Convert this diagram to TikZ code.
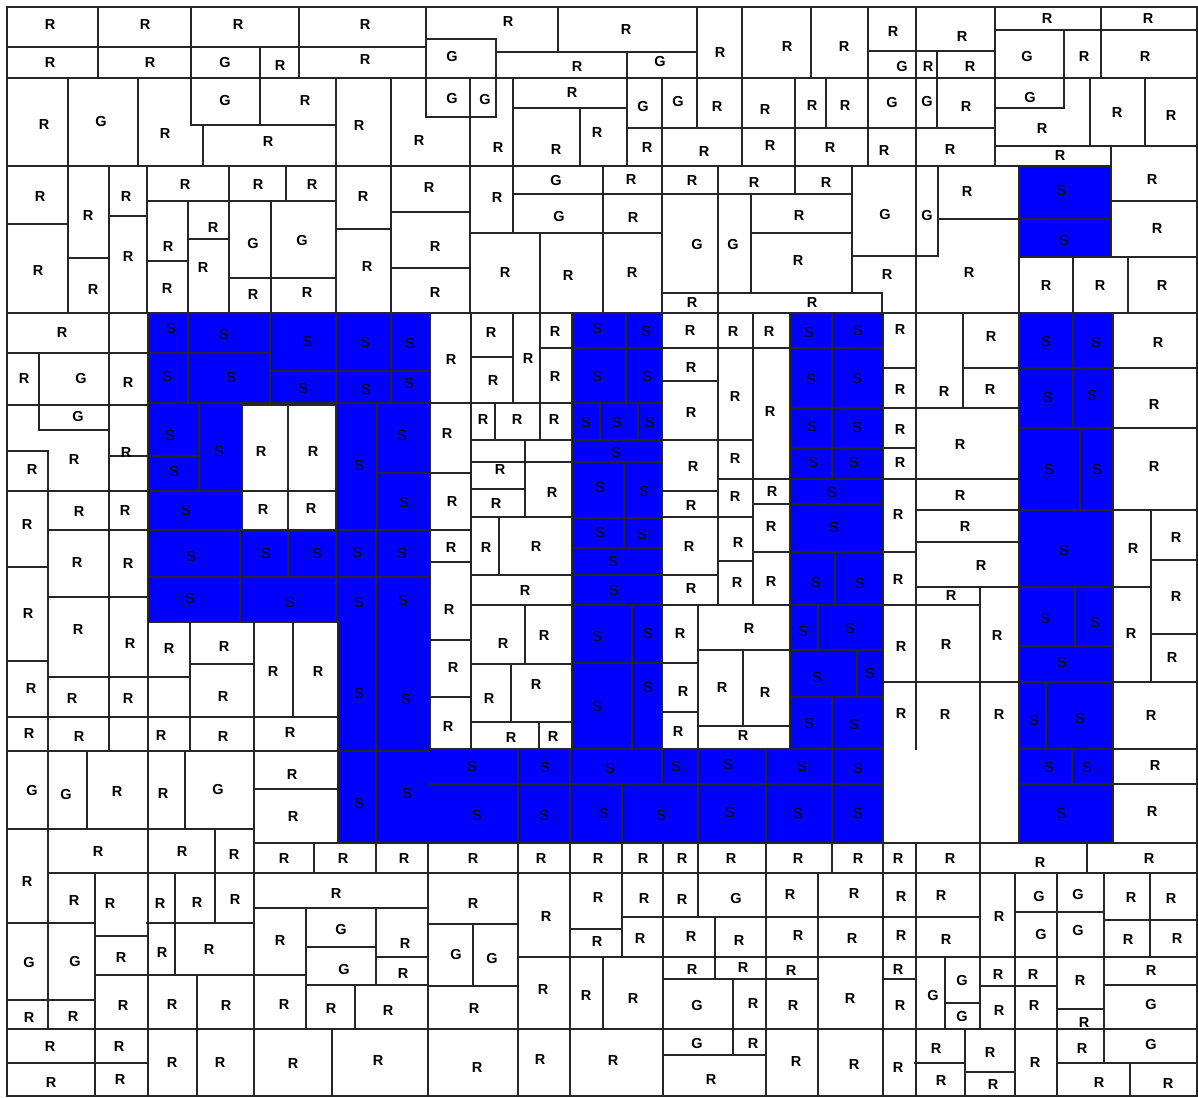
\documentclass[tikz,border=0pt]{standalone}
\usepackage{fontspec}
\setmainfont{Liberation Sans}
\begin{document}
\begin{tikzpicture}[x=1pt,y=-1pt,
  ln/.style={line width=1.2pt,draw=black!85,line cap=rect},
  sb/.style={fill={rgb,255:red,0;green,0;blue,255}},
  rl/.style={inner sep=0pt,font=\fontsize{14.5}{15}\selectfont\bfseries},
  sl/.style={inner sep=0pt,font=\fontsize{14.5}{15}\selectfont}]
\useasboundingbox (0,0) rectangle (1198,1097);
\fill[white] (0,0) rectangle (1198,1097);
% blue areas
\fill[sb] (148,313) rectangle (430,405);
\fill[sb] (148,405) rectangle (242,530);
\fill[sb] (336,405) rectangle (430,530);
\fill[sb] (148,530) rectangle (430,622);
\fill[sb] (338,622) rectangle (430,843);
\fill[sb] (430,749) rectangle (883,843);
\fill[sb] (572,313) rectangle (662,749);
\fill[sb] (790,313) rectangle (883,749);
\fill[sb] (1020,313) rectangle (1113,843);
\fill[sb] (1020,166) rectangle (1111,257);
% horizontal lines
\foreach \yy/\a/\b in {47/7/426, 39/426/496, 52/496/697, 30/995/1197, 51/868/995, 78/7/1197, 117/426/496, 125/191/336, 108/513/627, 128/627/995, 108/995/1064, 146/995/1197, 166/7/1111,
224/7/68, 258/68/109, 216/109/147, 201/147/336, 261/147/188, 239/188/229, 278/229/336, 229/336/391, 212/391/470, 268/391/470, 233/470/662, 194/513/852, 293/662/882, 233/751/852, 256/852/938, 219/938/1019, 201/1111/1197, 257/1019/1197, 219/1020/1111, 313/7/1197,
353/7/148, 405/7/148, 430/39/109, 451/7/48, 456/109/148, 491/7/336, 530/48/148, 567/7/48, 597/48/148, 661/7/48, 677/48/190, 717/7/338, 751/7/338, 664/190/254,
829/7/254, 873/48/1197, 923/7/95, 936/95/147, 923/147/254, 975/95/306, 1000/7/95, 1029/7/1197, 1063/7/147,
789/254/338, 843/254/883, 843/883/1020, 908/254/428, 947/306/376, 957/376/428, 985/306/428, 924/428/518, 986/428/518, 957/518/1197,
929/570/622, 917/622/883, 979/663/818, 1055/663/766,
917/883/980, 912/1015/1104, 920/1104/1197, 979/883/916, 1003/945/980, 986/980/1057, 1009/1057/1104, 985/1104/1197, 1063/915/965, 1072/965/1015, 1063/1057/1197,
357/471/513, 348/540/572, 403/430/572, 473/430/471, 440/471/572, 462/471/572, 489/471/525, 517/471/572, 530/430/471, 562/430/471, 575/471/572, 605/471/572, 640/430/471, 697/430/471, 664/471/572, 722/471/570, 749/429/883,
348/572/662, 403/572/662, 440/572/662, 462/572/662, 518/572/662, 548/572/662, 575/572/662, 605/572/662, 663/572/662,
348/663/790, 381/663/718, 440/663/753, 491/663/718, 479/718/790, 517/663/753, 561/718/753, 504/753/790, 552/753/790, 575/663/718, 605/662/883, 663/663/698, 712/663/698, 650/698/790, 726/698/790,
348/790/883, 408/790/883, 448/790/883, 479/790/883, 504/790/883, 552/790/883, 650/790/883, 697/790/883,
368/883/916, 408/883/1019, 448/883/916, 479/883/1019, 368/963/1019, 510/916/1019, 542/916/1019, 587/916/1019, 552/883/916, 605/883/980, 682/883/1019,
368/1020/1197, 428/1020/1197, 510/1020/1197, 587/1020/1113, 646/1020/1113, 682/1020/1197, 749/1020/1197, 784/1020/1197, 843/1020/1197,
560/1151/1197, 587/1113/1151, 634/1151/1197,
353/148/270, 403/148/430, 405/242/336, 371/270/430, 456/148/199, 473/377/430, 530/148/430, 577/148/430, 622/148/338, 751/338/429, 784/429/883, 843/338/883}
  \draw[ln] (\a,\yy) -- (\b,\yy);
% vertical lines
\foreach \xx/\a/\b in {98/7/78, 191/7/125, 299/7/78, 260/47/125, 426/7/117, 496/39/117, 558/7/52, 627/52/166, 697/7/128, 742/7/166, 811/7/78, 795/78/166, 826/78/128, 868/7/166, 916/7/166, 937/51/128, 995/7/166, 1101/7/78, 1064/30/108, 1090/78/146, 1145/78/146, 68/78/166, 138/78/166, 203/125/166, 336/78/166, 391/78/166, 470/78/166, 513/78/166, 580/108/166, 662/78/166,
68/166/313, 109/166/313, 147/166/313, 229/166/313, 286/166/201, 188/201/313, 271/201/313, 336/166/313, 391/166/313, 470/166/313, 513/166/233, 540/233/313, 603/166/313, 662/166/313, 718/166/313, 751/194/293, 795/166/194, 852/166/293, 882/293/313, 916/166/313, 938/166/256, 1019/166/313, 1111/146/257, 1073/257/313, 1128/257/313,
109/313/751, 39/353/430, 48/451/1029, 148/313/1096,
190/622/751, 254/622/1096, 293/622/717, 338/622/843,
87/751/829, 185/751/829, 215/829/923, 95/873/1096, 175/873/975, 197/975/1096,
314/843/873, 376/843/873, 428/843/1096, 518/749/1096, 570/749/1096, 306/908/1029, 376/908/985, 355/985/1029, 473/924/986, 332/1029/1096,
622/843/957, 603/957/1029, 663/843/1096, 698/605/917, 715/917/979, 733/979/1055, 766/749/1096, 818/873/1096, 832/749/873, 883/313/1096,
916/843/1096, 980/587/1029, 1015/873/1096, 1057/873/1096, 1104/873/1063, 1150/873/957, 1087/843/873, 945/957/1029, 965/1029/1096, 1130/1063/1096,
430/313/749, 471/313/749, 513/313/403, 540/313/403, 495/403/440, 540/403/440, 525/440/517, 499/517/575, 525/605/664, 511/664/722, 539/722/749, 572/313/749,
626/313/403, 600/403/440, 638/403/440, 624/462/548, 632/605/749, 662/313/749,
718/313/605, 753/313/605, 790/313/749, 743/650/726,
832/313/479, 835/552/605, 818/605/650, 857/650/697, 832/697/749,
916/313/749, 963/313/408, 1019/313/843,
1073/313/428, 1080/428/510, 1075/587/646, 1046/682/749, 1072/749/784, 1113/313/843, 1151/510/682,
188/313/403, 270/313/403, 336/313/403, 391/313/403, 199/403/491, 242/403/530, 288/405/577, 336/405/622, 377/403/530, 240/530/622, 376/530/843, 662/749/784, 622/784/843}
  \draw[ln] (\xx,\a) -- (\xx,\b);
% frame
\draw[ln] (7,7) rectangle (1197,1096);
% R labels
\foreach \xx/\yy in {50/25,145/25,238/25,365/25,508/22,626/30,720/53,787/47,844/47,893/32,962/37,1047/19,1148/19,50/63,150/63,280/66,365/60,577/67,928/67,970/67,1084/57,1145/57,44/125,165/134,305/101,268/142,359/126,419/141,498/148,572/93,556/150,597/133,647/148,717/107,765/110,812/106,845/106,966/107,704/152,770/146,830/148,884/151,950/150,1042/129,1117/113,1171/116,1060/156,
40/197,88/216,126/197,185/185,258/185,312/185,38/271,93/290,128/257,168/247,213/228,203/268,167/289,253/295,307/293,363/197,367/267,429/188,435/247,435/293,497/198,505/273,568/276,631/180,692/181,754/183,826/183,633/218,632/273,799/216,798/261,887/275,692/303,812/303,967/192,969/273,1152/180,1157/229,1046/286,1100/286,1162/286,
62/333,24/379,128/383,74/460,126/453,32/470,27/525,79/512,125/511,77/563,128/564,28/614,78/630,130/644,31/689,72/699,128/699,29/734,79/737,
169/649,224/647,223/697,273/672,318/672,161/736,223/737,290/733,
117/792,163/794,27/881,98/852,182/851,234/854,74/900,110/903,160/903,197/902,235/899,121/957,162/952,209/949,29/1017,73/1016,123/1005,172/1004,226/1005,50/1046,51/1082,119/1046,120/1079,172/1062,220/1062,
292/775,293/817,284/858,343/858,404/858,473/859,541/859,336/893,405/943,403/973,280/940,284/1004,331/1008,388/1010,473/903,474/1008,546/916,543/989,293/1063,378/1060,477/1067,540/1059,
598/858,643/858,682/858,731/858,798/859,858/858,598/897,597/941,644/898,682/899,790/894,854/893,640/938,691/936,739/940,798/935,852/938,586/995,633/998,692/969,743/967,791/970,753/1003,793/1005,850/998,613/1060,753/1043,711/1079,796/1061,854/1064,
898/858,950/858,1040/862,1149/858,901/896,901/935,941/895,946/939,999/916,1131/897,1171/898,1128/939,1177/938,898/969,900/1005,998/974,999/1010,1033/974,1034/1005,1080/980,1084/1022,1151/970,898/1067,936/1048,941/1080,990/1052,993/1084,1035/1062,1082/1048,1099/1082,1168/1083,
451/360,491/333,493/381,528/359,555/332,555/377,447/434,483/420,517/420,554/420,500/470,496/504,552/493,452/502,486/548,536/547,451/548,525/591,449/610,453/668,448/727,503/644,544/636,489/699,536/685,511/738,553/737,
690/331,733/332,769/332,691/368,691/413,735/397,770/412,693/467,735/459,691/506,735/497,772/492,771/527,689/547,738/543,691/589,737/583,771/582,680/634,683/692,678/732,749/629,722/688,765/693,743/736,
900/330,900/390,900/430,900/463,944/392,991/337,990/390,960/445,898/515,960/496,965/527,981/566,898/580,951/596,901/647,946/645,997/636,901/714,945/715,999/715,
1158/343,1154/405,1154/467,1133/549,1176/538,1176/597,1131/634,1172/658,1151/716,1155/766,1152/812,
261/452,313/452,263/510,311/509}
  \node[rl] (r-\xx-\yy) at (\xx,\yy) {R};
% G labels
\foreach \xx/\yy in {225/63,452/57,660/62,902/67,1027/57,101/122,225/101,452/99,485/100,643/107,678/102,892/103,927/102,1030/98,253/244,302/241,556/181,559/217,697/245,733/245,885/215,927/216,81/379,78/417,32/790,66/794,218/789,29/962,75/961,341/929,344/969,456/954,492/958,736/898,697/1005,697/1043,1039/896,1041/934,1078/894,1078/930,933/995,962/980,962/1016,1151/1004,1151/1044}
  \node[rl] (g-\xx-\yy) at (\xx,\yy) {G};
% S labels
\foreach \xx/\yy in {171/329,224/335,307/342,365/343,410/344,167/377,231/378,303/389,366/390,409/384,170/436,174/472,219/452,359/466,402/436,404/503,186/511,191/557,266/554,317/554,357/553,402/554,190/599,290/603,359/603,403/601,359/693,406/699,359/803,407/793,
472/766,545/767,610/768,676/766,728/764,802/766,858/768,477/815,544/815,604/813,661/815,730/812,798/813,858/813,
597/329,646/332,597/377,647/377,586/423,617/423,650/423,616/453,600/488,644/492,600/533,642/535,613/562,614/591,597/636,648/634,597/706,648/687,
809/333,858/331,811/380,857/379,812/427,857/428,813/463,854/463,832/493,834/528,816/583,860/584,803/631,850/629,817/677,870/673,809/723,854/724,
1046/342,1096/343,1048/398,1092/396,1049/470,1097/470,1064/551,1045/619,1095/623,1062/662,1034/720,1080/718,1049/767,1087/767,1061/813,1061/191,1064/241}
  \node[sl] (s-\xx-\yy) at (\xx,\yy) {S};
\end{tikzpicture}
\end{document}
